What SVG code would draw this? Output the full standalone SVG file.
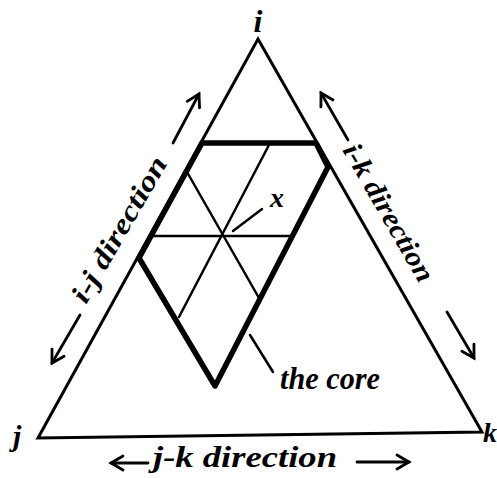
<svg xmlns="http://www.w3.org/2000/svg" width="497" height="478" viewBox="0 0 497 478">
<defs>
<style>
.edge{fill:none;stroke:#000;stroke-width:3;stroke-linejoin:miter}
.thick{fill:none;stroke:#000;stroke-width:5.5;stroke-linejoin:round}
.thin{fill:none;stroke:#000;stroke-width:2.5;stroke-linecap:round}
.arr{fill:none;stroke:#000;stroke-width:2.8;stroke-linecap:round;marker-end:url(#head)}
.lbl{font-family:"Liberation Serif","Times New Roman",serif;font-style:italic;font-weight:bold;fill:#000}
</style>
<marker id="head" markerUnits="userSpaceOnUse" markerWidth="20" markerHeight="20" refX="0" refY="0" viewBox="-14 -10 16 20" orient="auto">
<path d="M-12,-7 L0,0 L-12,7" fill="none" stroke="#000" stroke-width="2.8" stroke-linecap="round" stroke-linejoin="miter"/>
</marker>
</defs>
<g id="triangle">
<polygon class="edge" points="258,39 482,432 38,438"/>
</g>
<g id="core">
<line class="thin" x1="150" y1="236" x2="292" y2="236"/>
<line class="thin" x1="187" y1="172" x2="259" y2="298"/>
<line class="thin" x1="270" y1="143" x2="179" y2="317"/>
<polygon class="thick" points="202,143 316,143 328,167 215,386 139,258"/>
</g>
<g id="connectors">
<line class="arr" x1="173" y1="143" x2="199" y2="94"/>
<line class="arr" x1="80" y1="315" x2="52" y2="363"/>
<line class="arr" x1="348" y1="140" x2="321" y2="93"/>
<line class="arr" x1="447" y1="312" x2="474" y2="358"/>
<line class="arr" x1="148" y1="463" x2="111" y2="463"/>
<line class="arr" x1="357" y1="462" x2="409" y2="462"/>
<line class="thin" x1="262" y1="209" x2="233" y2="231"/>
<line class="thin" x1="250" y1="335" x2="273" y2="372"/>
</g>
<g id="labels">
<text class="lbl" x="258" y="32" font-size="32" text-anchor="middle">i</text>
<text class="lbl" x="13" y="446" font-size="30">j</text>
<text class="lbl" x="483" y="442" font-size="28">k</text>
<text class="lbl" x="270" y="207" font-size="28">x</text>
<text class="lbl" x="280" y="389" font-size="31" textLength="100" lengthAdjust="spacingAndGlyphs">the core</text>
<text class="lbl" x="153" y="467" font-size="29" textLength="184" lengthAdjust="spacingAndGlyphs">j-k direction</text>
<text class="lbl" font-size="28" textLength="164" lengthAdjust="spacingAndGlyphs" transform="translate(86,305) rotate(-60)">i-j direction</text>
<text class="lbl" font-size="28" textLength="155" lengthAdjust="spacingAndGlyphs" transform="translate(342,150) rotate(60)">i-k direction</text>
</g>
</svg>
